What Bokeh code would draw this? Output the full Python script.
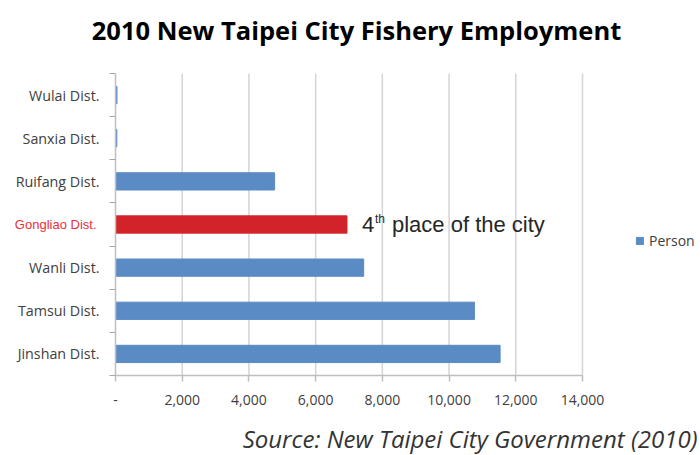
from bokeh.plotting import figure
from bokeh.models import (Range1d, FixedTicker, NumeralTickFormatter, Label,
                          Legend, LegendItem, ColumnDataSource)
from bokeh.embed import file_html
from bokeh.resources import INLINE

# ---- data ----
districts = ["Wulai Dist.", "Sanxia Dist.", "Ruifang Dist.", "Gongliao Dist.",
             "Wanli Dist.", "Tamsui Dist.", "Jinshan Dist."]
persons = [45, 40, 4770, 6940, 7440, 10760, 11530]
highlight = "Gongliao Dist."
x_ticks = [0, 2000, 4000, 6000, 8000, 10000, 12000, 14000]
series_name = "Person"
title_text = "2010 New Taipei City Fishery Employment"
source_text = "Source: New Taipei City Government (2010)"
note_main = "4"
note_sup = "th"
note_rest = "place of the city"

BLUE = "#5b8bc5"
RED = "#d2232a"

W, H = 700, 455
# plot-area placement inside the canvas (pixels)
FL, FR, FT, FB = 115, 582, 73, 375

n = len(districts)
xmin, xmax = x_ticks[0], x_ticks[-1]
pxx = (FR - FL) / (xmax - xmin)
pxy = (FB - FT) / n
x_range = Range1d(xmin - FL / pxx, xmax + (W - FR) / pxx)
y_range = Range1d(n + (H - FB) / pxy, 0 - FT / pxy)

ypos = [i + 0.5 for i in range(n)]
colors = [RED if d == highlight else BLUE for d in districts]
src = ColumnDataSource(dict(y=ypos, v=persons, c=colors, name=districts))

p = figure(width=W, height=H, output_backend="svg", toolbar_location=None,
           x_range=x_range, y_range=y_range, min_border=0)
p.title.visible = False
p.outline_line_color = None
p.background_fill_color = "white"
p.border_fill_color = "white"
p.xgrid.visible = False
p.ygrid.visible = False

# vertical gridlines across the plot area only
p.segment(x0=x_ticks[1:], x1=x_ticks[1:], y0=[0] * (len(x_ticks) - 1),
          y1=[n] * (len(x_ticks) - 1), line_color="#d4d4d4", line_width=1.5)

r = p.hbar(y="y", right="v", left=0, height=0.4, color="c", source=src)

# x axis
xa = p.xaxis[0]
xa.fixed_location = n
xa.bounds = (xmin, xmax)
xa.ticker = FixedTicker(ticks=x_ticks)
xa.formatter = NumeralTickFormatter(format="0,0")
xa.major_label_overrides = {0: "-"}
xa.axis_line_color = "#bfbfbf"
xa.axis_line_width = 1.5
xa.major_tick_line_color = "#bfbfbf"
xa.major_tick_line_width = 1.5
xa.major_tick_out = 6
xa.major_tick_in = 0
xa.minor_tick_line_color = None
xa.major_label_standoff = 13
xa.major_label_text_font = "Open Sans"
xa.major_label_text_font_size = "14px"
xa.major_label_text_color = "#404040"

# y axis
ya = p.yaxis[0]
ya.fixed_location = 0
ya.bounds = (0, n)
ya.ticker = FixedTicker(ticks=ypos, minor_ticks=list(range(n + 1)))
ya.major_label_overrides = {y: ("" if d == highlight else d) for y, d in zip(ypos, districts)}
ya.axis_line_color = "#bfbfbf"
ya.axis_line_width = 1.5
ya.major_tick_line_color = None
ya.major_tick_out = 0
ya.major_tick_in = 0
ya.minor_tick_line_color = "#a6a6a6"
ya.minor_tick_out = 6
ya.minor_tick_in = 0
ya.major_label_standoff = 10
ya.major_label_text_font = "Open Sans"
ya.major_label_text_font_size = "14.3px"
ya.major_label_text_color = "#404040"

# red highlighted category label
hi = districts.index(highlight)
p.add_layout(Label(x=0, y=ypos[hi], text=highlight, x_offset=-19,
                   text_align="right", text_baseline="middle",
                   text_font="Liberation Sans", text_font_size="13px",
                   text_color="#e8303a"))

# annotation
hv = persons[hi]
p.add_layout(Label(x=hv, y=ypos[hi], text=note_main, x_offset=15, y_offset=0,
                   text_baseline="middle", text_font="Liberation Sans",
                   text_font_size="22px", text_color="#262626"))
p.add_layout(Label(x=hv, y=ypos[hi], text=note_sup, x_offset=28, y_offset=6,
                   text_baseline="middle", text_font="Liberation Sans",
                   text_font_size="12px", text_color="#262626"))
p.add_layout(Label(x=hv, y=ypos[hi], text=note_rest, x_offset=45, y_offset=0,
                   text_baseline="middle", text_font="Liberation Sans",
                   text_font_size="22px", text_color="#262626"))

# legend
legend = Legend(items=[LegendItem(label=series_name, renderers=[r], index=0)],
                location=(635, H - 250), orientation="vertical",
                border_line_color=None, background_fill_alpha=0,
                padding=0, margin=0, glyph_width=9, glyph_height=9,
                label_height=16, label_standoff=5,
                label_text_font="Open Sans", label_text_font_size="14px",
                label_text_color="#404040", label_text_baseline="middle")
p.add_layout(legend, "center")

# title & source
p.add_layout(Label(x=356, y=H - 29, x_units="screen", y_units="screen",
                   text=title_text, text_align="center",
                   text_baseline="alphabetic", text_font="Open Sans",
                   text_font_style="bold", text_font_size="25.5px",
                   text_color="#000000"))
p.add_layout(Label(x=697, y=17, x_units="screen", y_units="screen",
                   text=source_text, text_align="right",
                   text_baseline="alphabetic", text_font="Open Sans",
                   text_font_style="italic", text_font_size="24px",
                   text_color="#333333"))

open("out.html", "w").write(file_html(p, INLINE))
